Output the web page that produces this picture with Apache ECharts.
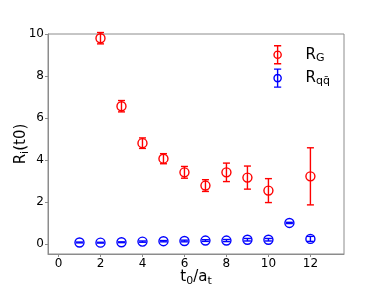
<!DOCTYPE html>
<html>
<head>
<meta charset="utf-8">
<script src="https://cdn.jsdelivr.net/npm/echarts@6/dist/echarts.min.js"></script>
<style>html,body{margin:0;padding:0;background:#fff;}#c{width:382px;height:286px;}</style>
</head>
<body>
<div id="c"></div>
<script>
const tG = [2, 3, 4, 5, 6, 7, 8, 9, 10, 12];
const RG = [9.80, 6.56, 4.80, 4.06, 3.41, 2.78, 3.41, 3.16, 2.54, 3.22];
const RGerr = [0.27, 0.27, 0.25, 0.24, 0.28, 0.28, 0.44, 0.55, 0.57, 1.36];
const tQ = [1, 2, 3, 4, 5, 6, 7, 8, 9, 10, 11, 12];
const RQ = [0.07, 0.06, 0.08, 0.11, 0.13, 0.14, 0.16, 0.16, 0.20, 0.20, 1.00, 0.24];
const RQerr = [0.02, 0.02, 0.02, 0.03, 0.03, 0.04, 0.04, 0.05, 0.06, 0.06, 0.03, 0.12];
const xTicks = [0, 2, 4, 6, 8, 10, 12];
const yTicks = [0, 2, 4, 6, 8, 10];

function mk(t, v, e) { return t.map((x, i) => [x, v[i], e[i]]); }

function render(color) {
  return function (params, api) {
    const x = api.value(0), y = api.value(1), e = api.value(2);
    const c = api.coord([x, y]);
    const lo = api.coord([x, y - e]);
    const hi = api.coord([x, y + e]);
    const cap = 3.5, r = 4.5;
    const st = { stroke: color, lineWidth: 1.4, fill: null };
    return {
      type: 'group',
      children: [
        { type: 'line', shape: { x1: c[0], y1: lo[1], x2: c[0], y2: hi[1] }, style: st },
        { type: 'line', shape: { x1: c[0] - cap, y1: lo[1], x2: c[0] + cap, y2: lo[1] }, style: st },
        { type: 'line', shape: { x1: c[0] - cap, y1: hi[1], x2: c[0] + cap, y2: hi[1] }, style: st },
        { type: 'circle', shape: { cx: c[0], cy: c[1], r: r }, style: { stroke: color, lineWidth: 1.4, fill: 'rgba(0,0,0,0)' } }
      ]
    };
  };
}

const icon = 'path://M0,0 L8,0 M4,0 L4,20 M0,20 L8,20 M8,10 A4,4 0 1,1 0,10 A4,4 0 1,1 8,10 Z';

const chart = echarts.init(document.getElementById('c'), null, { renderer: 'canvas' });
const axisCol = '#8c8c8c';
chart.setOption({
  animation: false,
  textStyle: { fontFamily: 'DejaVu Sans' },
  grid: { left: 48, right: 38, top: 34, bottom: 32, show: true, borderColor: axisCol, borderWidth: 1, outerBoundsMode: 'none', containLabel: false },
  legend: {
    orient: 'vertical', right: 47, top: 40, itemWidth: 10, itemHeight: 18, itemGap: 4,
    data: [
      { name: 'RG', icon: icon, itemStyle: { color: 'rgba(0,0,0,0)', borderColor: '#ff0000', borderWidth: 1.4 } },
      { name: 'RQ', icon: icon, itemStyle: { color: 'rgba(0,0,0,0)', borderColor: '#0000ff', borderWidth: 1.4 } }
    ],
    formatter: function (n) { return n === 'RG' ? '{a|R}{b|G}' : '{a|R}{b|qq\u0304}'; },
    textStyle: {
      rich: {
        a: { fontSize: 15, color: '#000', fontFamily: 'DejaVu Sans', padding: [0, 0, 0, 18] },
        b: { fontSize: 11, color: '#000', fontFamily: 'DejaVu Sans', verticalAlign: 'bottom', padding: [6, 0, 0, 0] }
      }
    }
  },
  xAxis: {
    type: 'value', min: -0.5, max: 13.6,
    axisLine: { show: true, onZero: false, lineStyle: { color: axisCol } },
    axisTick: { show: true, length: 3, customValues: xTicks, lineStyle: { color: axisCol } },
    axisLabel: { customValues: xTicks, color: '#000', fontSize: 12, margin: 4, fontFamily: 'DejaVu Sans' },
    splitLine: { show: false },
    name: '{a|t}{b|0}{a|/a}{b|t}', nameLocation: 'middle', nameGap: 14, nameMoveOverlap: false,
    nameTextStyle: {
      rich: {
        a: { fontSize: 15, color: '#000', fontFamily: 'DejaVu Sans' },
        b: { fontSize: 11, color: '#000', fontFamily: 'DejaVu Sans', padding: [8, 0, 0, 0] }
      }
    }
  },
  yAxis: {
    type: 'value', min: -0.48, max: 10,
    axisLine: { show: true, onZero: false, lineStyle: { color: axisCol } },
    axisTick: { show: true, length: 3, customValues: yTicks, lineStyle: { color: axisCol } },
    axisLabel: { customValues: yTicks, color: '#000', fontSize: 12, margin: 4, fontFamily: 'DejaVu Sans' },
    splitLine: { show: false },
    name: '{a|R}{b|i}{a|(t0)}', nameLocation: 'middle', nameGap: 17, nameRotate: 90, nameMoveOverlap: false,
    nameTextStyle: {
      rich: {
        a: { fontSize: 15, color: '#000', fontFamily: 'DejaVu Sans' },
        b: { fontSize: 11, color: '#000', fontFamily: 'DejaVu Sans', padding: [8, 0, 0, 0] }
      }
    }
  },
  series: [
    { name: 'RG', type: 'custom', renderItem: render('#ff0000'), data: mk(tG, RG, RGerr), encode: { x: 0, y: 1 }, itemStyle: { color: '#ff0000' } },
    { name: 'RQ', type: 'custom', renderItem: render('#0000ff'), data: mk(tQ, RQ, RQerr), encode: { x: 0, y: 1 }, itemStyle: { color: '#0000ff' } }
  ]
});
</script>
</body>
</html>
